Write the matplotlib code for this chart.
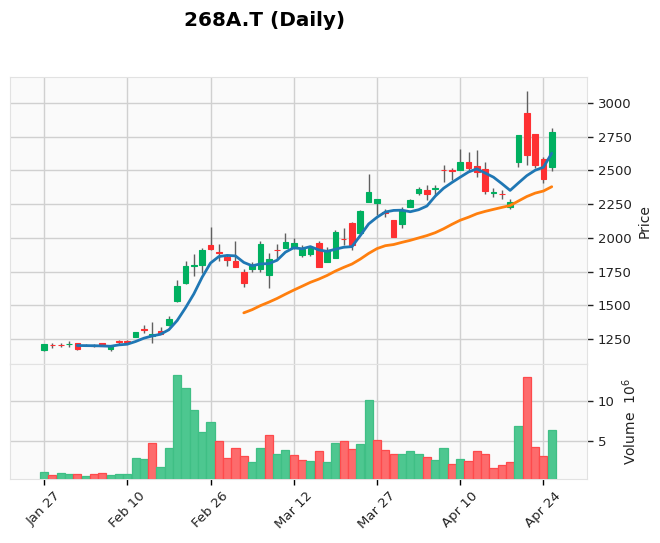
import matplotlib
matplotlib.use('Agg')
import matplotlib.pyplot as plt
import numpy as np
import pandas as pd

# ---------------- data ----------------
dates = pd.bdate_range('2025-01-27', '2025-04-25', freq='C',
                       holidays=['2025-02-11', '2025-02-24', '2025-03-20'])

opens = [1165, 1208, 1208, 1209, 1220, 1203, 1203, 1218, 1175, 1232,
         1235, 1268, 1325, 1272, 1310, 1350, 1535, 1663, 1790, 1795,
         1947, 1893, 1857, 1826, 1750, 1766, 1765, 1722, 1912, 1928,
         1923, 1873, 1880, 1960, 1823, 1853, 1992, 2108, 2034, 2268,
         2261, 2190, 2132, 2102, 2231, 2330, 2355, 2362, 2505, 2502,
         2503, 2560, 2533, 2511, 2332, 2328, 2231, 2565, 2924, 2770,
         2585, 2528]
highs = [1213, 1222, 1220, 1233, 1222, 1215, 1212, 1220, 1203, 1243,
         1240, 1302, 1354, 1378, 1341, 1421, 1688, 1831, 1880, 1923,
         2083, 1953, 1870, 1977, 1769, 1819, 1979, 1890, 1955, 2034,
         1997, 1947, 1940, 1979, 1930, 2058, 2071, 2120, 2205, 2474,
         2290, 2217, 2135, 2230, 2290, 2375, 2392, 2392, 2540, 2516,
         2659, 2634, 2651, 2565, 2367, 2355, 2290, 2765, 3091, 2772,
         2600, 2817]
lows = [1163, 1185, 1188, 1190, 1165, 1195, 1192, 1195, 1163, 1208,
        1215, 1265, 1297, 1218, 1288, 1348, 1527, 1655, 1717, 1737,
        1910, 1831, 1790, 1780, 1638, 1750, 1749, 1627, 1842, 1925,
        1920, 1861, 1866, 1785, 1820, 1850, 1947, 1910, 2030, 2262,
        2170, 2157, 2003, 2071, 2228, 2320, 2281, 2318, 2416, 2429,
        2500, 2496, 2454, 2323, 2305, 2290, 2210, 2528, 2540, 2516,
        2405, 2496]
closes = [1210, 1203, 1205, 1213, 1176, 1205, 1200, 1197, 1200, 1228,
          1230, 1300, 1320, 1284, 1290, 1398, 1643, 1790, 1800, 1910,
          1920, 1885, 1832, 1782, 1668, 1795, 1955, 1842, 1908, 1967,
          1960, 1915, 1923, 1787, 1910, 2041, 1988, 1947, 2199, 2338,
          2288, 2185, 2005, 2207, 2281, 2362, 2323, 2370, 2500, 2494,
          2560, 2516, 2486, 2345, 2340, 2322, 2264, 2763, 2614, 2540,
          2434, 2783]
volumes_m = [1.05, 0.67, 0.92, 0.80, 0.80, 0.55, 0.80, 0.92, 0.67, 0.80,
             0.80, 2.81, 2.73, 4.71, 1.68, 4.08, 13.32, 11.64, 8.91, 6.09,
             7.39, 4.96, 2.81, 4.08, 3.07, 2.31, 4.08, 5.71, 3.32, 3.87,
             3.19, 2.58, 2.46, 3.74, 2.35, 4.75, 5.00, 3.99, 4.62, 10.17,
             5.13, 3.87, 3.36, 3.36, 3.74, 3.36, 2.98, 2.60, 4.12, 2.10,
             2.73, 2.48, 3.74, 3.36, 1.60, 1.97, 2.35, 6.89, 13.07, 4.24,
             3.11, 6.39]
mav_periods = [5, 25]
title = '268A.T (Daily)'

# ---------------- style ----------------
UP = '#00b060'
DOWN = '#fe3032'
VUP = '#4dc790'
VDOWN = '#fd6b6c'
VUP_EDGE = '#3fbf85'
VDOWN_EDGE = '#fe4a4c'
WICK = '#606060'
BG = '#fafafa'
GRID = '#d0d0d0'
MAV_COLORS = ['#1f77b4', '#ff7f0e']

o = np.array(opens, float)
h = np.array(highs, float)
l = np.array(lows, float)
c = np.array(closes, float)
v = np.array(volumes_m, float) * 1e6
x = np.arange(len(c))

W, H = 660, 543
fig = plt.figure(figsize=(W / 100, H / 100), dpi=100)
fig.patch.set_facecolor('white')


def fr(left, top, right, bottom):
    return [left / W, 1 - bottom / H, (right - left) / W, (bottom - top) / H]


axp = fig.add_axes(fr(10, 77.3, 586.7, 364.3))
axv = fig.add_axes(fr(10, 364.3, 586.7, 479.3), sharex=axp)

for ax in (axp, axv):
    ax.set_facecolor(BG)
    ax.set_axisbelow(True)
    ax.grid(True, color=GRID, linewidth=1.0)
    for s in ax.spines.values():
        s.set_color('#e2e2e2')
        s.set_linewidth(0.8)
    ax.yaxis.tick_right()
    ax.yaxis.set_label_position('right')
    ax.tick_params(axis='y', direction='out', length=4, width=1,
                   labelsize=9.5, colors='#222222', pad=4)

# candles
up = c >= o
body_col = np.where(c > o, UP, DOWN)
axp.vlines(x, l, h, colors=WICK, linewidth=1.0, zorder=2)
bottoms = np.minimum(o, c)
heights = np.maximum(np.abs(c - o), 1.5)
axp.bar(x, heights, bottom=bottoms, width=0.68, color=body_col,
        edgecolor=body_col, linewidth=0.8, zorder=3)

# moving averages
cs = pd.Series(c)
for p, col in zip(mav_periods, MAV_COLORS):
    axp.plot(x, cs.rolling(p).mean().values, color=col, linewidth=2.0,
             zorder=4, solid_capstyle='round')

axp.set_ylim(1062, 3190)
axp.set_yticks([1250, 1500, 1750, 2000, 2250, 2500, 2750, 3000])
axp.set_ylabel('Price', fontsize=10, color='#222222')
axp.tick_params(axis='x', which='both', bottom=False, labelbottom=False)

# volume, coloured by close vs previous close
vup = np.concatenate([[c[0] > o[0]], c[1:] > c[:-1]])
vcol = np.where(vup, VUP, VDOWN)
vedge = np.where(vup, VUP_EDGE, VDOWN_EDGE)
axv.bar(x, v, width=0.98, color=vcol, edgecolor=vedge, linewidth=0.9,
        zorder=3)
axv.set_ylim(0.18e6, 14.66e6)
axv.set_yticks([5e6, 10e6])
axv.set_yticklabels(['5', '10'])
axv.set_ylabel('Volume  $10^6$', fontsize=10, color='#222222')

tick_pos = x[::10]
axv.set_xticks(tick_pos)
axv.set_xticklabels([d.strftime('%b %d') for d in dates[::10]],
                    rotation=45, ha='center', fontsize=9.5, color='#222222')
axv.tick_params(axis='x', direction='out', length=4, width=1, pad=3)
axp.set_xlim(-4.09, 65.2)

fig.text(265 / W, 1 - 20 / H, title, ha='center', va='center',
         fontsize=14.4, fontweight='bold')

fig.savefig('out.png', dpi=100, facecolor='white')
